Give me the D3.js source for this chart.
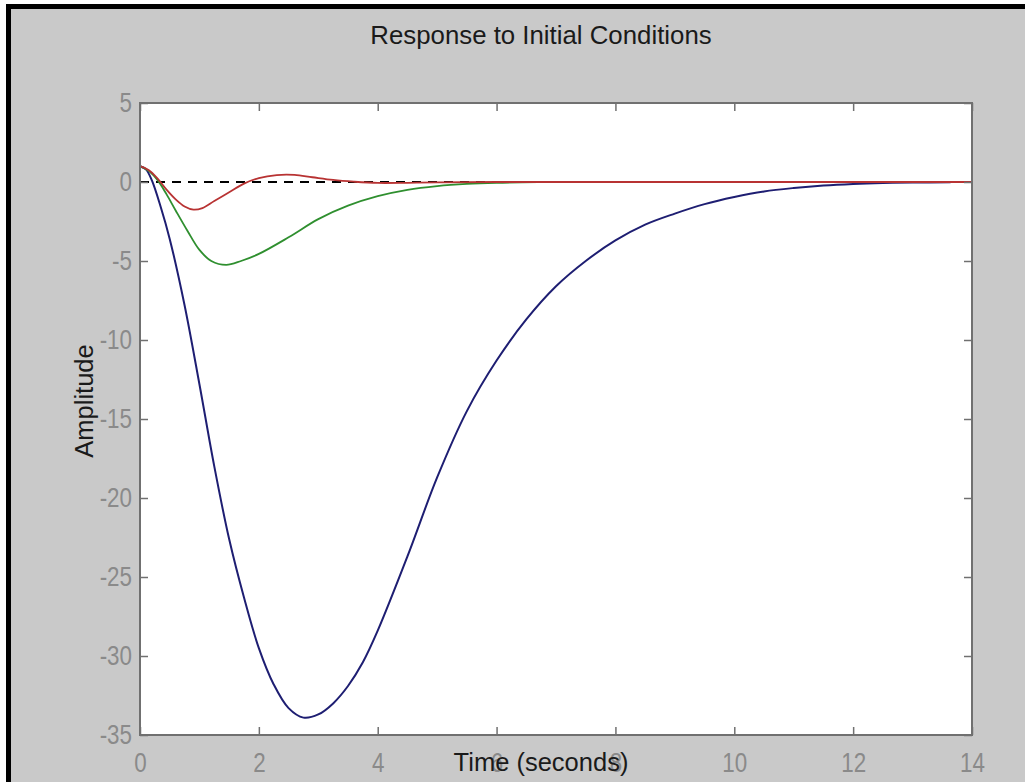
<!DOCTYPE html>
<html lang="en">
<head>
<meta charset="UTF-8">
<title>Response to Initial Conditions</title>
<script src="https://d3js.org/d3.v7.min.js"></script>
<style>
  body, html { margin: 0; padding: 0; background: #fff; overflow: hidden; }
  svg { display: block; }
</style>
</head>
<body>
<div id="chart"></div>
<script>
  // values
  const timeBlue = [0, 0.1, 0.2, 0.35, 0.5, 0.75, 1, 1.25, 1.5, 1.75, 2, 2.25, 2.5, 2.75, 3, 3.25, 3.5, 3.75, 4, 4.5, 5, 5.5, 6, 6.5, 7, 7.5, 8, 8.5, 9, 9.5, 10, 10.5, 11, 11.5, 12, 12.5, 13, 13.64];
  const ampBlue = [1, 0.8, 0.1, -1.6, -3.6, -7.8, -12.8, -18.0, -22.6, -26.3, -29.5, -31.8, -33.3, -33.9, -33.7, -33.0, -31.9, -30.4, -28.4, -23.7, -18.7, -14.5, -11.3, -8.7, -6.6, -5.0, -3.7, -2.7, -2.0, -1.4, -0.95, -0.6, -0.38, -0.22, -0.12, -0.06, -0.03, -0.02];

  const timeGreen = [0, 0.15, 0.3, 0.45, 0.6, 0.8, 1.0, 1.2, 1.45, 1.7, 2.0, 2.5, 3.0, 3.5, 4.0, 4.5, 5.0, 5.5, 6.0, 6.7];
  const ampGreen = [1, 0.7, 0.1, -0.8, -1.8, -3.1, -4.3, -5.0, -5.25, -5.0, -4.55, -3.5, -2.35, -1.5, -0.9, -0.5, -0.26, -0.12, -0.05, -0.01];

  const timeRed = [0, 0.15, 0.3, 0.45, 0.6, 0.75, 0.9, 1.05, 1.25, 1.5, 1.75, 2.0, 2.3, 2.6, 2.9, 3.25, 3.6, 4.0, 4.5, 5, 6, 8, 10, 12, 14];
  const ampRed = [1, 0.75, 0.2, -0.5, -1.1, -1.55, -1.75, -1.65, -1.2, -0.65, -0.1, 0.25, 0.44, 0.45, 0.3, 0.13, 0.02, -0.06, -0.05, -0.02, 0, 0, 0, 0, 0];

  const xTicks = [0, 2, 4, 6, 8, 10, 12, 14];
  const yTicks = [5, 0, -5, -10, -15, -20, -25, -30, -35];

  const width = 1025, height = 782;
  const plot = { left: 140, right: 972, top: 103, bottom: 735 };

  const svg = d3.select("#chart").append("svg")
      .attr("width", width)
      .attr("height", height);

  // figure background with dark edge on left/top
  svg.append("rect").attr("x", 6).attr("y", 4)
      .attr("width", width - 6).attr("height", height - 4).attr("fill", "#000");
  svg.append("rect").attr("x", 11).attr("y", 9)
      .attr("width", width - 11).attr("height", height - 9).attr("fill", "#c9c9c9");

  const x = d3.scaleLinear().domain([0, 14]).range([plot.left, plot.right]);
  const y = d3.scaleLinear().domain([-35, 5]).range([plot.bottom, plot.top]);

  svg.append("rect")
      .attr("x", plot.left).attr("y", plot.top)
      .attr("width", plot.right - plot.left).attr("height", plot.bottom - plot.top)
      .attr("fill", "#fff");

  // zero reference line
  svg.append("line")
      .attr("x1", x(0)).attr("x2", x(14))
      .attr("y1", y(0)).attr("y2", y(0))
      .attr("stroke", "#000").attr("stroke-width", 2)
      .attr("stroke-dasharray", "9,7");

  const line = d3.line()
      .x(d => x(d[0]))
      .y(d => y(d[1]))
      .curve(d3.curveCatmullRom.alpha(0.5));

  const series = [
    { t: timeBlue, v: ampBlue, color: "#1e1e72", w: 2 },
    { t: timeGreen, v: ampGreen, color: "#2f8f2f", w: 1.8 },
    { t: timeRed, v: ampRed, color: "#b83333", w: 1.8 }
  ];

  svg.selectAll(".series")
      .data(series)
      .enter().append("path")
      .attr("class", "series")
      .attr("fill", "none")
      .attr("stroke", d => d.color)
      .attr("stroke-width", d => d.w)
      .attr("d", d => line(d.t.map((t, i) => [t, d.v[i]])));

  // axes
  const tickFont = "'Liberation Sans', Arial, sans-serif";
  const styleTicks = g => {
    g.select(".domain").remove();
    g.selectAll(".tick line").attr("stroke", "#707070").attr("stroke-width", 1.5);
    g.selectAll(".tick text")
        .attr("fill", "#8a8a8a")
        .attr("font-size", 28)
        .attr("font-family", tickFont)
        .attr("transform", "scale(0.8,1)");
  };

  svg.append("g")
      .attr("transform", `translate(0,${plot.bottom})`)
      .call(d3.axisBottom(x).tickValues(xTicks).tickSize(-8).tickPadding(17).tickFormat(d => String(d)))
      .call(styleTicks);

  svg.append("g")
      .attr("transform", `translate(${plot.left},0)`)
      .call(d3.axisLeft(y).tickValues(yTicks).tickSize(-8).tickPadding(10).tickFormat(d => String(d)))
      .call(styleTicks);

  svg.append("g")
      .attr("transform", `translate(0,${plot.top})`)
      .call(d3.axisTop(x).tickValues(xTicks).tickSize(-8).tickFormat(""))
      .call(styleTicks);

  svg.append("g")
      .attr("transform", `translate(${plot.right},0)`)
      .call(d3.axisRight(y).tickValues(yTicks).tickSize(-8).tickFormat(""))
      .call(styleTicks);

  // axes box
  svg.append("rect")
      .attr("x", plot.left).attr("y", plot.top)
      .attr("width", plot.right - plot.left).attr("height", plot.bottom - plot.top)
      .attr("fill", "none")
      .attr("stroke", "#707070")
      .attr("stroke-width", 2);

  // titles
  const labelFont = "'Liberation Sans', Arial, sans-serif";
  svg.append("text")
      .attr("x", 541).attr("y", 44)
      .attr("text-anchor", "middle")
      .attr("font-family", labelFont).attr("font-size", 25.8)
      .attr("fill", "#1a1a1a")
      .text("Response to Initial Conditions");

  svg.append("text")
      .attr("x", 541).attr("y", 771)
      .attr("text-anchor", "middle")
      .attr("font-family", labelFont).attr("font-size", 25.5)
      .attr("fill", "#1a1a1a")
      .text("Time (seconds)");

  svg.append("text")
      .attr("transform", "translate(93,401) rotate(-90)")
      .attr("text-anchor", "middle")
      .attr("font-family", labelFont).attr("font-size", 25.5)
      .attr("fill", "#1a1a1a")
      .text("Amplitude");
</script>
</body>
</html>
